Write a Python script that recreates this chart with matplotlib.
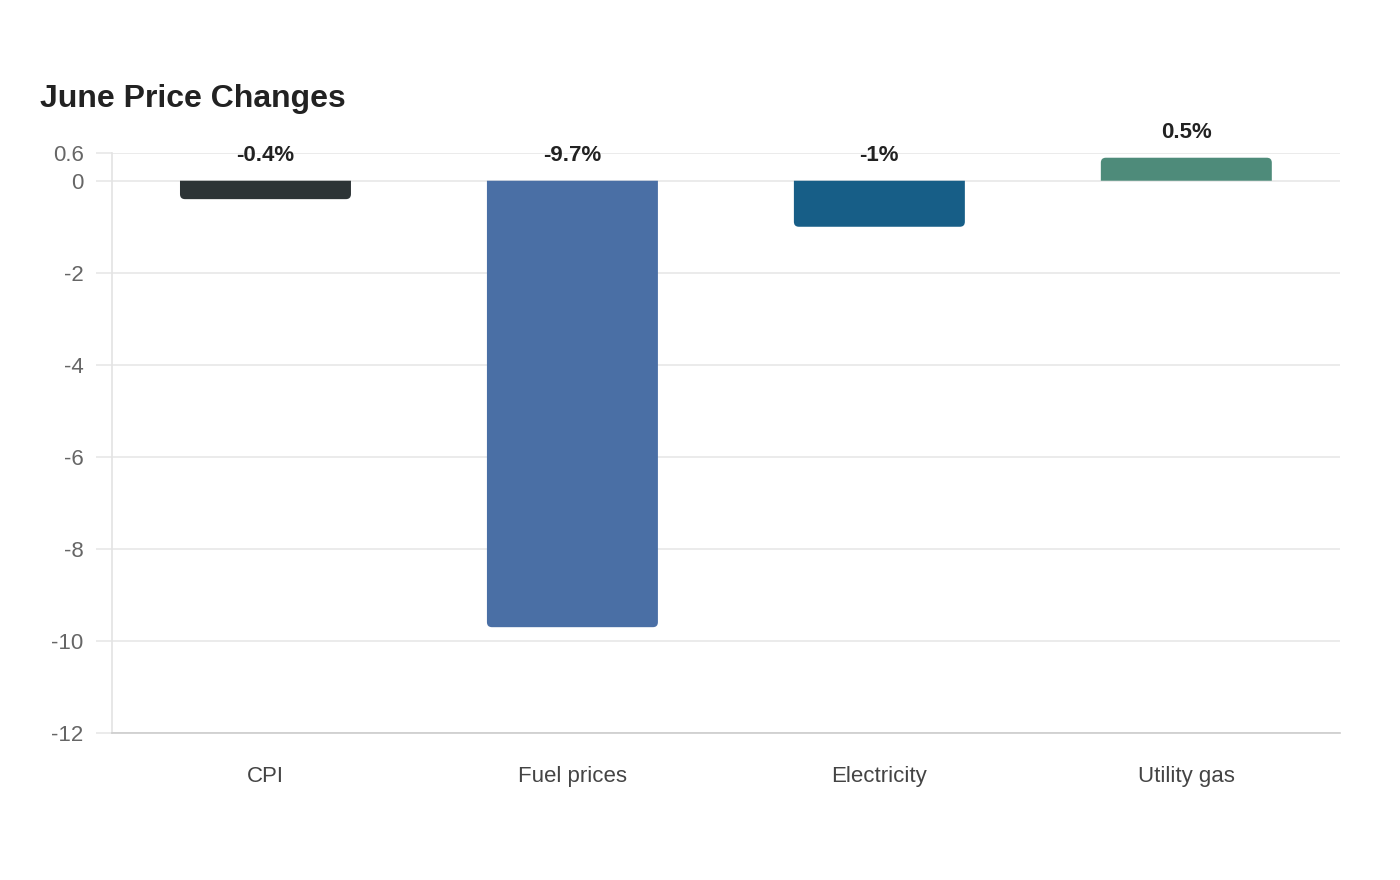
import matplotlib.pyplot as plt
from matplotlib.path import Path
from matplotlib.patches import PathPatch

categories = ["CPI", "Fuel prices", "Electricity", "Utility gas"]
changes = [-0.4, -9.7, -1.0, 0.5]
labels = ["-0.4%", "-9.7%", "-1%", "0.5%"]
colors = ["#2d3436", "#4a6fa5", "#175e87", "#4e8b7a"]
yticks = [0.6, 0, -2, -4, -6, -8, -10, -12]
ytick_labels = ["0.6", "0", "-2", "-4", "-6", "-8", "-10", "-12"]

plt.rcParams["font.family"] = ["Liberation Sans", "DejaVu Sans"]

fig = plt.figure(figsize=(14, 8.8), dpi=100)
ax = fig.add_axes([0.08, 0.167, 0.877, 0.659])

xs = list(range(len(categories)))
ax.set_xlim(-0.5, len(categories) - 0.5)
ax.set_ylim(-12, 0.6)

# rounded corners only at the far end of each bar
width = 0.557
bbox = ax.get_position()
px_x = bbox.width * 1400 / 4.0
px_y = bbox.height * 880 / 12.6
r = 5
for x, v, c in zip(xs, changes, colors):
    rx = r / px_x
    ry = r / px_y
    x0, x1 = x - width / 2, x + width / 2
    s = 1 if v > 0 else -1
    yend = v
    verts = [
        (x0, 0), (x0, yend - s * ry), (x0, yend), (x0 + rx, yend),
        (x1 - rx, yend), (x1, yend), (x1, yend - s * ry), (x1, 0), (x0, 0),
    ]
    codes = [Path.MOVETO, Path.LINETO, Path.CURVE3, Path.CURVE3,
             Path.LINETO, Path.CURVE3, Path.CURVE3, Path.LINETO, Path.CLOSEPOLY]
    ax.add_patch(PathPatch(Path(verts, codes), facecolor=c, edgecolor="none", zorder=3))

for x, v, lab in zip(xs, changes, labels):
    ax.annotate(lab, (x, max(v, 0)), xytext=(0, 18.5), textcoords="offset points",
                ha="center", va="center", fontsize=16, fontweight="bold", color="#222222")

ax.set_yticks(yticks)
ax.set_yticklabels(ytick_labels)
ax.set_xticks(xs)
ax.set_xticklabels(categories)
ax.grid(axis="y", color="#e8e8e8", linewidth=1.2, zorder=0)
ax.set_axisbelow(True)
ax.tick_params(axis="y", length=11.5, width=1.2, color="#e8e8e8", pad=9,
               labelsize=16, labelcolor="#666666")
ax.tick_params(axis="x", length=0, pad=24, labelsize=16, labelcolor="#444444")
for s in ["top", "right"]:
    ax.spines[s].set_visible(False)
ax.spines["left"].set_color("#e3e3e3")
ax.spines["left"].set_linewidth(1.2)
ax.spines["bottom"].set_color("#cccccc")
ax.spines["bottom"].set_linewidth(1.2)

fig.text(40 / 1400, 1 - 99 / 880, "June Price Changes", fontsize=23, fontweight="bold",
         color="#222222", ha="left", va="center")

fig.savefig("out.png", dpi=100, facecolor="white")
